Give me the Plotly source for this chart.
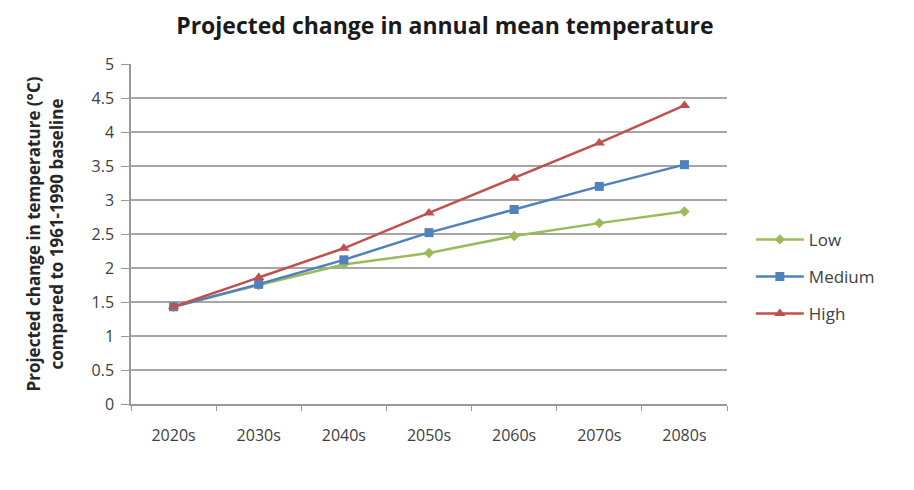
import plotly.graph_objects as go

decades = ["2020s", "2030s", "2040s", "2050s", "2060s", "2070s", "2080s"]
low = [1.43, 1.75, 2.05, 2.22, 2.47, 2.66, 2.83]
medium = [1.43, 1.76, 2.12, 2.52, 2.86, 3.20, 3.52]
high = [1.43, 1.86, 2.29, 2.81, 3.32, 3.84, 4.39]
y_ticks = [0, 0.5, 1, 1.5, 2, 2.5, 3, 3.5, 4, 4.5, 5]
y_tick_text = ["0", "0.5", "1", "1.5", "2", "2.5", "3", "3.5", "4", "4.5", "5"]

series = [
    ("Low", low, "#9bbb59", "diamond", 8),
    ("Medium", medium, "#4f81bd", "square", 9),
    ("High", high, "#c0504d", "triangle-up", 10),
]

fig = go.Figure()
for name, vals, color, sym, size in series:
    fig.add_trace(go.Scatter(
        x=decades, y=vals, name=name, mode="lines+markers",
        line=dict(color=color, width=2.5),
        marker=dict(symbol=sym, size=size, color=color),
        legendgroup=name,
    ))

fig.update_layout(
    width=914, height=490,
    paper_bgcolor="white", plot_bgcolor="white",
    margin=dict(l=123, r=195, t=56, b=94, autoexpand=False),
    title=dict(text="<b>Projected change in annual mean temperature</b>",
               x=0.478, xanchor="center", y=0.964, yanchor="middle",
               font=dict(family="Open Sans", size=23, color="#1a1a1a")),
    font=dict(family="Open Sans", size=16, color="#404040"),
    legend=dict(x=1.04, xanchor="left", y=0.374, yanchor="middle",
                font=dict(size=17, color="#404040"), tracegroupgap=12,
                itemwidth=48, bgcolor="rgba(0,0,0,0)"),
    showlegend=True,
)
fig.update_xaxes(
    type="category", range=[-0.5, 6.5], tickson="boundaries",
    ticks="outside", ticklen=5, tickcolor="#999", showline=True,
    linecolor="#999", linewidth=1.5, showgrid=False, automargin=False,
    ticklabelstandoff=16,
    tickfont=dict(size=16, color="#404040"),
)
fig.update_yaxes(
    range=[0, 5], tickvals=y_ticks, ticktext=y_tick_text,
    ticks="outside", ticklen=8, tickcolor="#999", showline=True,
    linecolor="#999", linewidth=1.5, showgrid=True, gridcolor="#a6a6a6",
    gridwidth=1.5, zeroline=False, automargin=False,
    ticklabelstandoff=4,
    tickfont=dict(size=16, color="#404040"),
    title=dict(text="<b>Projected change in temperature (°C)<br>compared to 1961-1990 baseline</b>",
               font=dict(size=17, color="#262626"), standoff=24),
)
fig.write_html("out.html")
